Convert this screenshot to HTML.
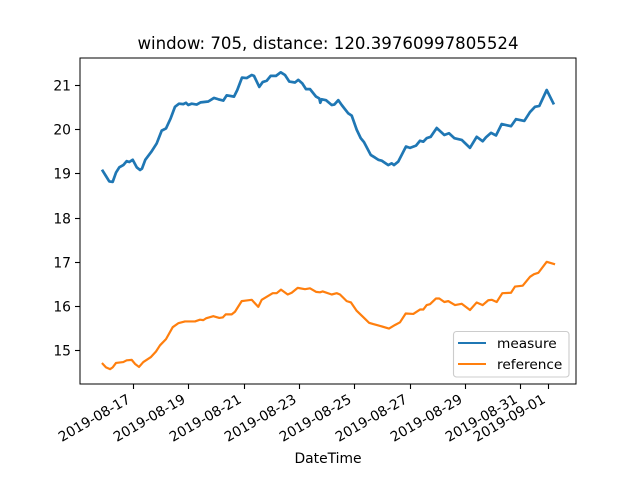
<!DOCTYPE html>
<html>
<head>
<meta charset="utf-8">
<title>window: 705, distance: 120.39760997805524</title>
<style>
html,body{margin:0;padding:0;background:#fff;width:640px;height:480px;overflow:hidden}
svg{display:block}
text{font-family:"DejaVu Sans","Liberation Sans",sans-serif;fill:#000}
</style>
</head>
<body>
<svg id="chart" xmlns="http://www.w3.org/2000/svg" width="640" height="480" viewBox="0 0 640 480">
<rect x="0" y="0" width="640" height="480" fill="#fff"/>
<text x="328" y="49" text-anchor="middle" font-size="16.6">window: 705, distance: 120.39760997805524</text>
<text x="328" y="463" text-anchor="middle" font-size="13.89">DateTime</text>
<g id="series"></g>
<g id="ticks"></g>
<rect x="80" y="58" width="496" height="326" fill="none" stroke="#000" stroke-width="1.11" shape-rendering="crispEdges"/>
<g>
<rect x="453.5" y="331.5" width="115.5" height="45.5" rx="3" ry="3" fill="#fff" fill-opacity="0.8" stroke="#ccc" stroke-width="1.11"/>
<line x1="458" x2="486" y1="343" y2="343" stroke="#1f77b4" stroke-width="2.08"/>
<text x="497" y="348" font-size="13.7">measure</text>
<line x1="458" x2="486" y1="364" y2="364" stroke="#ff7f0e" stroke-width="2.08"/>
<text x="497" y="369" font-size="13.7">reference</text>
</g>
</svg>
<script>
// Days are counted from 2019-08-17 00:00.
var measureDays = [-1.113,-0.994,-0.875,-0.752,-0.632,-0.513,-0.369,-0.246,-0.152,-0.029,0.116,0.235,0.307,0.426,0.643,0.838,1.019,1.175,1.344,1.5,1.644,1.8,1.897,1.98,2.103,2.284,2.429,2.703,2.909,3.065,3.245,3.368,3.632,3.751,3.921,4.091,4.272,4.355,4.546,4.669,4.814,4.958,5.15,5.32,5.475,5.631,5.837,5.956,6.1,6.234,6.379,6.596,6.715,6.751,6.802,6.957,7.163,7.257,7.401,7.524,7.763,7.886,8.067,8.211,8.33,8.573,8.728,8.847,8.97,9.208,9.331,9.414,9.57,9.693,9.848,9.993,10.21,10.354,10.473,10.596,10.741,10.958,11.233,11.402,11.594,11.861,12.161,12.403,12.62,12.74,12.92,13.1,13.307,13.643,13.824,14.124,14.33,14.51,14.666,14.933,15.172];
var measureValues = [19.07,18.95,18.83,18.82,19.03,19.15,19.2,19.29,19.27,19.32,19.15,19.09,19.12,19.32,19.5,19.69,19.98,20.03,20.26,20.52,20.59,20.58,20.61,20.56,20.59,20.57,20.62,20.64,20.72,20.69,20.66,20.78,20.75,20.9,21.18,21.17,21.24,21.22,20.97,21.08,21.11,21.22,21.22,21.3,21.24,21.09,21.07,21.13,21.05,20.92,20.92,20.75,20.71,20.61,20.69,20.67,20.56,20.57,20.67,20.56,20.37,20.32,20.0,19.81,19.72,19.43,19.37,19.32,19.3,19.2,19.24,19.2,19.28,19.43,19.62,19.59,19.64,19.75,19.73,19.81,19.84,20.04,19.88,19.92,19.81,19.77,19.59,19.84,19.74,19.83,19.93,19.87,20.13,20.08,20.24,20.2,20.4,20.52,20.54,20.9,20.6];
var referenceDays = [-1.113,-0.994,-0.849,-0.752,-0.632,-0.369,-0.246,-0.065,0.054,0.199,0.354,0.622,0.813,0.958,1.175,1.417,1.619,1.861,2.223,2.403,2.523,2.62,2.884,3.101,3.224,3.332,3.549,3.668,3.91,4.03,4.272,4.51,4.633,5.031,5.175,5.331,5.573,5.717,5.934,6.198,6.379,6.596,6.74,6.838,7.163,7.344,7.463,7.705,7.86,8.067,8.366,8.511,8.666,8.847,9.234,9.451,9.631,9.837,10.112,10.354,10.473,10.596,10.716,10.933,11.052,11.233,11.377,11.619,11.861,12.161,12.403,12.62,12.822,12.945,13.126,13.329,13.643,13.787,14.066,14.33,14.475,14.63,14.933,15.197];
var referenceValues = [14.7,14.62,14.58,14.62,14.72,14.74,14.78,14.79,14.7,14.63,14.74,14.85,14.98,15.12,15.26,15.53,15.62,15.66,15.66,15.7,15.69,15.73,15.78,15.74,15.75,15.82,15.82,15.88,16.12,16.13,16.15,15.99,16.15,16.3,16.3,16.38,16.27,16.31,16.42,16.39,16.41,16.33,16.32,16.34,16.27,16.3,16.27,16.12,16.09,15.9,15.72,15.63,15.6,15.57,15.5,15.58,15.64,15.84,15.83,15.93,15.93,16.03,16.05,16.18,16.18,16.1,16.12,16.03,16.06,15.92,16.09,16.03,16.14,16.15,16.1,16.3,16.31,16.45,16.47,16.67,16.73,16.76,17.01,16.96];
var xTickDays = [0,2,4,6,8,10,12,14,15];
var xTickLabels = ["2019-08-17","2019-08-19","2019-08-21","2019-08-23","2019-08-25","2019-08-27","2019-08-29","2019-08-31","2019-09-01"];
var yTickValues = [15,16,17,18,19,20,21];
var yTickLabels = ["15","16","17","18","19","20","21"];

var NS = "http://www.w3.org/2000/svg";
function xScale(d){ return 133.5 + d * 27.67; }
function yScale(v){ return 350.6 - (v - 15) * 44.17; }

var seriesGroup = document.getElementById("series");
var ticksGroup = document.getElementById("ticks");

function drawLine(days, values, color, width, name){
  var pts = [];
  for (var i = 0; i < days.length; i++) {
    pts.push(xScale(days[i]).toFixed(2) + "," + yScale(values[i]).toFixed(2));
  }
  var el = document.createElementNS(NS, "polyline");
  el.setAttribute("points", pts.join(" "));
  el.setAttribute("fill", "none");
  el.setAttribute("stroke", color);
  el.setAttribute("stroke-width", width);
  el.setAttribute("stroke-linejoin", "round");
  el.setAttribute("stroke-linecap", "square");
  
  
  seriesGroup.appendChild(el);
}
drawLine(measureDays, measureValues, "#1f77b4", "2.7", "measure-line");
drawLine(referenceDays, referenceValues, "#ff7f0e", "2.2", "reference-line");

xTickDays.forEach(function(d, i){
  var px = Math.round(xScale(d) - 0.5) + 0.5;
  var t = document.createElementNS(NS, "line");
  t.setAttribute("x1", px);
  t.setAttribute("x2", px);
  t.setAttribute("y1", 384);
  t.setAttribute("y2", 389);
  t.setAttribute("stroke", "#000");
  t.setAttribute("stroke-width", "1.11");
  
  
  ticksGroup.appendChild(t);
  var lx = px - 2.2;
  var ly = 402;
  var l = document.createElementNS(NS, "text");
  l.setAttribute("x", lx);
  l.setAttribute("y", ly);
  l.setAttribute("text-anchor", "end");
  l.setAttribute("font-size", "13.8");
  l.setAttribute("transform", "rotate(-30 " + lx + " " + ly + ")");
  l.textContent = xTickLabels[i];
  
  
  ticksGroup.appendChild(l);
});

yTickValues.forEach(function(v, i){
  var py = Math.round(yScale(v) - 0.5) + 0.5;
  var t = document.createElementNS(NS, "line");
  t.setAttribute("x1", 75);
  t.setAttribute("x2", 80);
  t.setAttribute("y1", py);
  t.setAttribute("y2", py);
  t.setAttribute("stroke", "#000");
  t.setAttribute("stroke-width", "1.11");
  
  
  ticksGroup.appendChild(t);
  var l = document.createElementNS(NS, "text");
  l.setAttribute("x", 71);
  l.setAttribute("y", py + 5);
  l.setAttribute("text-anchor", "end");
  l.setAttribute("font-size", "13.89");
  l.textContent = yTickLabels[i];
  
  
  ticksGroup.appendChild(l);
});
</script>
</body>
</html>
